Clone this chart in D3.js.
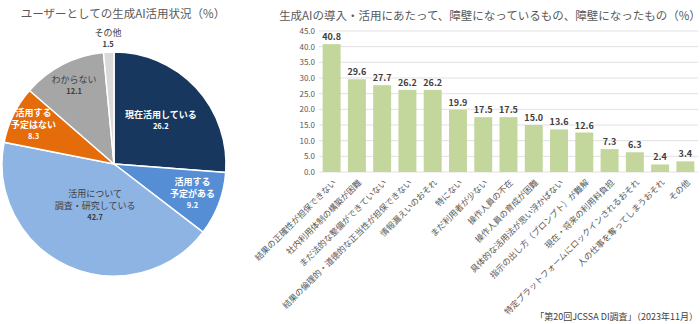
<!DOCTYPE html>
<html><head><meta charset="utf-8">
<script src="https://cdn.jsdelivr.net/npm/d3@7"></script>
<style>
body{margin:0;background:#fff;}
text{font-family:"Noto Sans CJK JP","Noto Sans",sans-serif;}
</style></head>
<body><svg id="c" width="700" height="324"></svg>
<script>
// ---- Pie data ----
const pieTitle = "ユーザーとしての生成AI活用状況（%）";
const pieCats = ["現在活用している","活用する予定がある","活用について調査・研究している","活用する予定はない","わからない","その他"];
const pieLines = [["現在活用している"],["活用する","予定がある"],["活用について","調査・研究している"],["活用する","予定はない"],["わからない"],["その他"]];
const pieValues = [26.2, 9.2, 42.7, 8.3, 12.1, 1.5];
const pieColors = ["#17375E","#558ED5","#8EB4E3","#E46C0A","#A6A6A6","#D9D9D9"];
const pieTextColors = ["#fff","#fff","#404040","#fff","#404040","#404040"];

// ---- Bar data ----
const barTitle = "生成AIの導入・活用にあたって、障壁になっているもの、障壁になったもの（%）";
const barCats = ["結果の正確性が担保できない","社内利用体制の構築が困難","まだ法的な整備ができていない","結果の倫理的・道徳的な正当性が担保できない","情報漏えいのおそれ","特にない","まだ利用者が少ない","操作人員の不在","操作人員の育成が困難","具体的な活用法が思い浮かばない","指示の出し方（プロンプト）が難解","現在・将来の利用料負担","特定プラットフォームにロックインされるおそれ","人の仕事を奪ってしまうおそれ","その他"];
const barValues = [40.8, 29.6, 27.7, 26.2, 26.2, 19.9, 17.5, 17.5, 15.0, 13.6, 12.6, 7.3, 6.3, 2.4, 3.4];
const yTicks = [0,5,10,15,20,25,30,35,40,45];
const source = "「第20回JCSSA DI調査」（2023年11月）";

const svg = d3.select("#c");

// ===== Pie =====
svg.append("text").attr("x",123).attr("y",18).attr("text-anchor","middle")
  .attr("font-size",11.5).attr("fill","#595959").text(pieTitle);
const cx=114, cy=164, R=112;
const g = svg.append("g").attr("transform",`translate(${cx},${cy})`);
const pie = d3.pie().sort(null).value(d=>d)(pieValues);
const arc = d3.arc().innerRadius(0).outerRadius(R);
g.selectAll("path").data(pie).join("path").attr("d",arc)
  .attr("fill",(d,i)=>pieColors[i]).attr("stroke","#fff").attr("stroke-width",1.5);
const labelR = [0.57,0.75,0.41,0.80,0.78,1.12];
pie.forEach((d,i)=>{
  const r = R*labelR[i];
  const c = d3.arc().innerRadius(r).outerRadius(r).centroid(d);
  const lines = pieLines[i];
  const lh = 12;
  const total = lines.length + 1;
  const t = g.append("text").attr("text-anchor","middle").attr("fill",pieTextColors[i])
    .attr("font-size",9).attr("font-weight", i===0||i===1||i===3 ? "bold":"normal");
  lines.forEach((ln,k)=>{
    t.append("tspan").attr("x",c[0]).attr("y",c[1]+(k-(total-1)/2)*lh+3).text(ln);
  });
  t.append("tspan").attr("x",c[0]).attr("y",c[1]+(lines.length-(total-1)/2)*lh+2)
    .attr("font-size",7.5).attr("font-weight","bold").text(pieValues[i].toFixed(1));
});

// ===== Bar =====
svg.append("text").attr("x",490).attr("y",20).attr("text-anchor","middle")
  .attr("font-size",11.5).attr("fill","#595959").text(barTitle);
const x = d3.scaleBand().domain(barCats).range([319,698]).paddingInner(0.29).paddingOuter(0.145);
const y = d3.scaleLinear().domain([0,45]).range([172,31]);
const gy = svg.append("g");
gy.selectAll("line").data(yTicks).join("line")
  .attr("x1",319).attr("x2",698).attr("y1",d=>y(d)).attr("y2",d=>y(d))
  .attr("stroke","#D9D9D9").attr("stroke-width",0.8);
gy.selectAll("text").data(yTicks).join("text")
  .attr("x",315).attr("y",d=>y(d)+3).attr("text-anchor","end")
  .attr("font-size",8).attr("fill","#595959").text(d=>d.toFixed(1));
svg.append("g").selectAll("rect").data(barValues).join("rect")
  .attr("x",(d,i)=>x(barCats[i])).attr("width",x.bandwidth())
  .attr("y",d=>y(d)).attr("height",d=>y(0)-y(d)).attr("fill","#C3D69B");
svg.append("g").selectAll("text").data(barValues).join("text")
  .attr("x",(d,i)=>x(barCats[i])+x.bandwidth()/2).attr("y",d=>y(d)-4)
  .attr("text-anchor","middle").attr("font-size",9).attr("font-weight","bold")
  .attr("fill","#404040").text(d=>d.toFixed(1));
svg.append("g").selectAll("text").data(barCats).join("text")
  .attr("transform",d=>`translate(${x(d)+x.bandwidth()/2+3},${181}) rotate(-45)`)
  .attr("text-anchor","end").attr("dy","0.35em").attr("font-size",8.5).attr("fill","#595959").text(d=>d);

svg.append("text").attr("x",698).attr("y",320).attr("text-anchor","end")
  .attr("font-size",9).attr("fill","#404040").text(source);
</script></body></html>
